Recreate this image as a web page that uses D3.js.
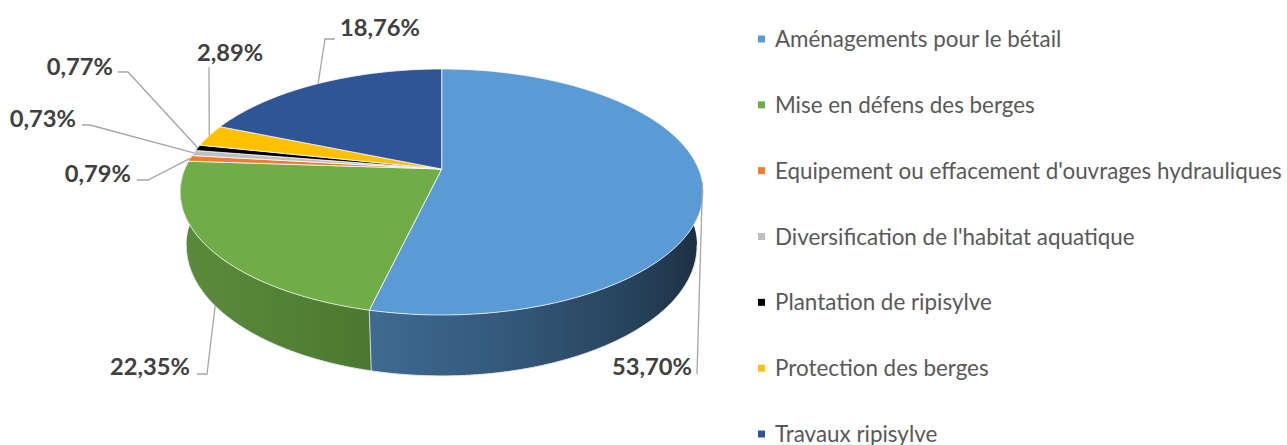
<!DOCTYPE html>
<html>
<head>
<meta charset="utf-8">
<script src="https://cdn.jsdelivr.net/npm/d3@7"></script>
<style>
  body { margin: 0; background: #fff; }
  svg { display: block; }
</style>
</head>
<body>
<svg id="chart" width="1287" height="445"></svg>
<script>
// ---- data ----
const categories = [
  "Aménagements pour le bétail",
  "Mise en défens des berges",
  "Equipement ou effacement d'ouvrages hydrauliques",
  "Diversification de l'habitat aquatique",
  "Plantation de ripisylve",
  "Protection des berges",
  "Travaux ripisylve"
];
const shares = [53.70, 22.35, 0.79, 0.73, 0.77, 2.89, 18.76];
const colors = ["#5B9BD5", "#70AD47", "#ED7D31", "#BFBFBF", "#000000", "#FFC000", "#2F5597"];

// ---- 3D disc seen in perspective ----
const view = { cx: 441.7, cy: 169, F: 1218.6, R: 0.2108, h: 0.0503, tilt: Math.asin(0.462) };
const sinE = Math.sin(view.tilt), cosE = Math.cos(view.tilt);
const deg = Math.PI / 180;

// theta: clockwise from the far point of the disc; level: 0 = top face, -h = bottom
function project(theta, level) {
  const x = view.R * Math.sin(theta), z = view.R * Math.cos(theta), y = level;
  const depth = 1 + z * cosE - y * sinE;
  const up = y * cosE + z * sinE;
  return [view.cx + view.F * x / depth, view.cy - view.F * up / depth];
}
function arcPoints(a0, a1, level) {
  const n = Math.max(2, Math.ceil((a1 - a0) / (0.5 * deg)));
  return d3.range(n + 1).map(i => project(a0 + (a1 - a0) * i / n, level));
}

// label placement (text position and leader elbows)
const labelLayout = [
  { x: 692, y: 366, align: "end",    leader: [[697, 374]],             level: "top" },
  { x: 190, y: 366, align: "end",    leader: [[197, 374], [207, 374]], level: "bottom" },
  { x: 131, y: 173, align: "end",    leader: [[137, 180], [148, 180]], level: "top" },
  { x: 76,  y: 118, align: "end",    leader: [[82, 125], [90, 125]],   level: "top" },
  { x: 113, y: 66,  align: "end",    leader: [[118, 72], [128, 72]],   level: "top" },
  { x: 230, y: 52,  align: "middle", leader: [[209, 67]],              level: "top" },
  { x: 380, y: 27,  align: "middle", leader: [[335, 39], [325, 39]],   level: "top" }
];

const svg = d3.select("#chart");
const defs = svg.append("defs");
const line = d3.line();
const arcs = d3.pie().sort(null).value(d => d)(shares);
const fmt = d3.formatLocale({ decimal: ",", thousands: " ", grouping: [3], currency: ["", " €"] }).format(".2f");

// ---- side wall: one shaded band per slice over the front half ----
const shadeAt = t => 0.5 + 0.3 * Math.cos(t - 245 * deg);
const wallMin = 90 * deg, wallMax = 270 * deg;
const sideG = svg.append("g");
arcs.forEach((a, i) => {
  const t0 = Math.max(a.startAngle, wallMin), t1 = Math.min(a.endAngle, wallMax);
  if (t1 <= t0) return;
  const c = d3.rgb(colors[i]);
  // gradient stops follow the wall from right (small theta) to left
  const g0 = Math.max(t0, 101 * deg);
  const samples = d3.range(25).map(k => g0 + (t1 - g0) * k / 24);
  const xs = samples.map(t => project(t, 0)[0]);
  const xMin = d3.min(xs), xMax = d3.max(xs);
  const grad = defs.append("linearGradient")
    .attr("id", "wall-" + i)
    .attr("gradientUnits", "userSpaceOnUse")
    .attr("x1", xMin).attr("x2", xMax).attr("y1", 0).attr("y2", 0);
  samples.map((t, k) => ({ t, off: (xs[k] - xMin) / Math.max(1e-6, xMax - xMin) }))
    .sort((p, q) => p.off - q.off)
    .forEach(s => {
      const f = shadeAt(s.t);
      grad.append("stop")
        .attr("offset", s.off)
        .attr("stop-color", d3.rgb(c.r * f, c.g * f, c.b * f).formatHex());
    });
  const pts = [...arcPoints(t0, t1, 0), ...arcPoints(t0, t1, -view.h).reverse()];
  sideG.append("path")
    .attr("d", line(pts) + "Z")
    .attr("fill", `url(#wall-${i})`);
});

// slice seams on the visible wall
arcs.forEach(a => {
  if (a.startAngle > wallMin && a.startAngle < wallMax && Math.cos(a.startAngle) < -0.2) {
    sideG.append("path")
      .attr("d", line([project(a.startAngle, 0), project(a.startAngle, -view.h)]))
      .attr("stroke", "#dbe6f0").attr("stroke-opacity", 0.85).attr("stroke-width", 1).attr("fill", "none");
  }
});
// faint lower edge
sideG.append("path")
  .attr("d", line(arcPoints(100 * deg, 260 * deg, -view.h)))
  .attr("fill", "none").attr("stroke", "#dfe6ee").attr("stroke-width", 1);

// ---- top faces ----
svg.append("g").selectAll("path").data(arcs).join("path")
  .attr("d", a => line([[view.cx, view.cy], ...arcPoints(a.startAngle, a.endAngle, 0)]) + "Z")
  .attr("fill", (a, i) => colors[i])
  .attr("stroke", "#ffffff")
  .attr("stroke-opacity", 0.75)
  .attr("stroke-width", 1)
  .attr("stroke-linejoin", "round");

// ---- data labels with leader lines ----
const labelG = svg.append("g");
labelG.selectAll("path").data(arcs).join("path")
  .attr("d", a => {
    const L = labelLayout[a.index];
    const mid = (a.startAngle + a.endAngle) / 2;
    const anchor = project(mid, L.level === "top" ? 0 : -view.h);
    return line([...L.leader, anchor]);
  })
  .attr("fill", "none")
  .attr("stroke", "#A6A6A6")
  .attr("stroke-width", 1.3);

const labelTexts = labelG.selectAll("text").data(arcs).join("text")
  .attr("font-family", "Lato, 'Open Sans', sans-serif")
  .attr("font-weight", 700)
  .attr("fill", "#404040")
  .attr("font-size", 20)
  .text(a => fmt(shares[a.index]) + "%");
const refW = labelTexts.nodes()[0].getComputedTextLength();
const labelSize = 20 * 80 / refW;
labelTexts
  .attr("font-size", labelSize)
  .attr("x", a => labelLayout[a.index].x)
  .attr("y", a => labelLayout[a.index].y)
  .attr("dy", "0.36em")
  .attr("text-anchor", a => labelLayout[a.index].align);

// ---- legend ----
const legendY = d3.scalePoint().domain(categories).range([39, 434]);
const legend = svg.append("g");
const rows = legend.selectAll("g").data(categories).join("g")
  .attr("transform", d => `translate(0,${legendY(d)})`);
rows.append("rect")
  .attr("x", 758).attr("y", -3.5).attr("width", 7).attr("height", 7)
  .attr("fill", (d, i) => colors[i]);
const legendTexts = rows.append("text")
  .attr("x", 775)
  .attr("dy", "0.36em")
  .attr("font-family", "Lato, 'Open Sans', sans-serif")
  .attr("fill", "#595959")
  .attr("font-size", 20)
  .text(d => d);
const longW = legendTexts.nodes()[2].getComputedTextLength();
legendTexts.attr("font-size", 20 * 507 / longW);
</script>
</body>
</html>
